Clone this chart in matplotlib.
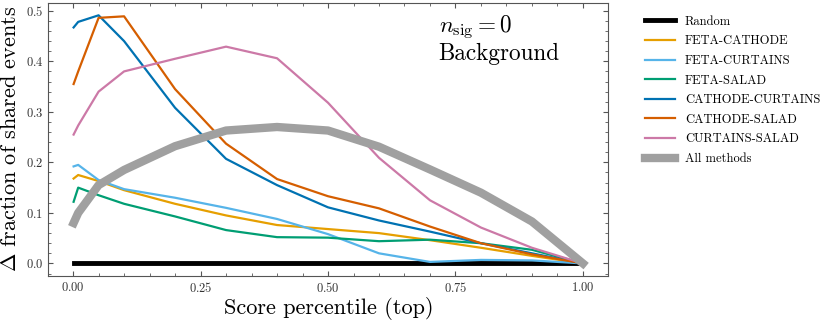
import numpy as np
import matplotlib as mpl
import matplotlib.pyplot as plt

mpl.rcParams.update({
    "font.family": "serif",
    "font.serif": ["cmr10"],
    "mathtext.fontset": "cm",
    "axes.unicode_minus": False,
    "axes.formatter.use_mathtext": True,
    "xtick.direction": "in",
    "ytick.direction": "in",
    "xtick.top": True,
    "ytick.right": True,
    "xtick.minor.visible": True,
    "ytick.minor.visible": True,
    "axes.edgecolor": "#555555",
    "xtick.color": "#555555",
    "ytick.color": "#555555",
    "xtick.labelcolor": "#333333",
    "ytick.labelcolor": "#333333",
})

percentiles = [0.001, 0.01, 0.05, 0.1, 0.2, 0.3, 0.4, 0.5, 0.6, 0.7, 0.8, 0.9, 1.0]

random_pair = [0.0] * 13
feta_cathode = [0.168, 0.175, 0.163, 0.145, 0.118, 0.095, 0.076, 0.068, 0.060, 0.046, 0.031, 0.015, 0.0]
feta_curtains = [0.192, 0.195, 0.165, 0.147, 0.130, 0.110, 0.088, 0.058, 0.020, 0.003, 0.007, 0.006, 0.0]
feta_salad = [0.122, 0.150, 0.135, 0.118, 0.093, 0.066, 0.052, 0.051, 0.044, 0.047, 0.040, 0.027, 0.0]
cathode_curtains = [0.467, 0.478, 0.491, 0.440, 0.308, 0.207, 0.155, 0.111, 0.085, 0.063, 0.040, 0.020, 0.0]
cathode_salad = [0.355, 0.380, 0.486, 0.489, 0.345, 0.237, 0.167, 0.133, 0.109, 0.073, 0.040, 0.018, 0.0]
curtains_salad = [0.255, 0.273, 0.340, 0.380, 0.405, 0.429, 0.406, 0.318, 0.209, 0.125, 0.071, 0.031, 0.0]
all_methods = [0.080, 0.100, 0.155, 0.185, 0.232, 0.263, 0.270, 0.263, 0.231, 0.186, 0.140, 0.083, 0.0]

pairs = [
    ("FETA-CATHODE", feta_cathode, "#E69F00"),
    ("FETA-CURTAINS", feta_curtains, "#56B4E9"),
    ("FETA-SALAD", feta_salad, "#009E73"),
    ("CATHODE-CURTAINS", cathode_curtains, "#0072B2"),
    ("CATHODE-SALAD", cathode_salad, "#D55E00"),
    ("CURTAINS-SALAD", curtains_salad, "#CC79A7"),
]


def main():
    fig = plt.figure(figsize=(8.3, 3.23), dpi=100)
    ax = fig.add_axes([0.058, 0.146, 0.675, 0.845])

    ax.plot(percentiles, random_pair, color="black", lw=3.5, label="Random")
    for name, vals, col in pairs:
        ax.plot(percentiles, vals, color=col, lw=1.6, label=name)
    ax.plot(percentiles, all_methods, color="#A0A0A0", lw=6, label="All methods")

    ax.set_xticks([0.0, 0.25, 0.5, 0.75, 1.0])
    ax.set_xlabel("Score percentile (top)", fontsize=16, labelpad=2)
    ax.set_ylabel(r"$\Delta$ fraction of shared events", fontsize=16, labelpad=4)
    ax.tick_params(labelsize=9)

    ax.text(0.697, 0.96, r"$n_{\rm sig} = 0$" + "\nBackground", transform=ax.transAxes,
            fontsize=16.7, va="top", ha="left", linespacing=1.1)

    ax.legend(loc="upper left", bbox_to_anchor=(1.045, 0.995), frameon=False,
              fontsize=9.0, handlelength=2.4, handletextpad=0.8, labelspacing=0.6)

    return fig, ax


if __name__ == "__main__":
    fig, _ = main()
    fig.savefig("out.png", dpi=100)
